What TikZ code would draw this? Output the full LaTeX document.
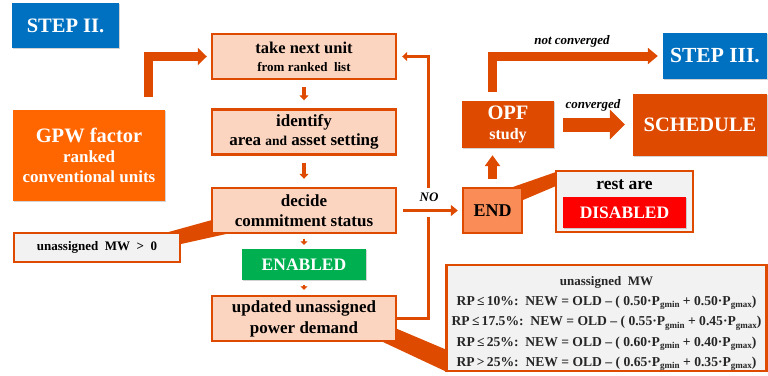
\documentclass[tikz,border=0pt]{standalone}
\usepackage{fontspec}
\setmainfont{Liberation Serif}
\usetikzlibrary{arrows.meta,shadows}

\definecolor{rust}{RGB}{222,74,0}
\definecolor{peach}{RGB}{252,213,192}
\definecolor{stepblue}{RGB}{0,112,192}
\definecolor{gpworange}{RGB}{255,102,0}
\definecolor{endorange}{RGB}{250,140,88}
\definecolor{okgreen}{RGB}{0,176,80}
\definecolor{panelgray}{RGB}{242,242,242}

% size with a given line pitch
\newcommand{\fs}[2]{\fontsize{#1}{#2}\selectfont}
\newcommand{\Pg}[1]{P\raisebox{-2.4pt}{\fs{9}{9}g#1}}

\tikzset{
  box/.style={rectangle, inner sep=0pt, align=center},
  flowbox/.style={box, fill=peach, draw=rust, line width=2.4pt,
    minimum width=184pt, minimum height=45pt},
  solidbox/.style={box, text=white, minimum width=#1,
    drop shadow={shadow xshift=1.2pt, shadow yshift=-1.2pt, opacity=0.35}},
  graybox/.style={box, fill=panelgray, draw=rust, line width=2.4pt},
  thin arrow/.style={draw=rust, line width=3.6pt,
    -{Triangle[length=5pt, width=9pt]}},
  flow line/.style={draw=rust, line width=3.4pt},
  fat line/.style={draw=rust, line width=9pt},
  lbl/.style={font=\bfseries\itshape\fs{13}{15}, inner sep=1pt},
  pointer/.style={fill=rust}
}

\begin{document}
\begin{tikzpicture}[x=1pt, y=-1pt]
\useasboundingbox (0,0) rectangle (768,375);

% callout pointers (behind the boxes)
\fill[pointer] (165,233) -- (212,220) -- (226,234) -- (181,244) -- cycle;
\fill[pointer] (510,188) -- (556,172) -- (556,186) -- (523,200) -- cycle;
\fill[pointer] (383,342) -- (395,328) -- (447,350) -- (447,372) -- cycle;

% left column
\node[solidbox=107pt, fill=stepblue, minimum height=45pt, font=\bfseries\fs{20.5}{24}]
  (step2) at (65.5,25.5) {STEP II.};
\node[solidbox=152pt, fill=gpworange, minimum height=91pt, font=\bfseries\fs{17}{20}]
  (gpw) at (89,155.5) {{\fs{20.5}{20}GPW factor}\\ranked\\conventional units};
\node[graybox, minimum width=166pt, minimum height=29pt, font=\bfseries\fs{13}{15}]
  (unas) at (97,247.5) {unassigned\ \ MW\ \ \textgreater\ \ 0};

% main flow
\node[flowbox, font=\bfseries\fs{16.5}{18}] (take) at (304,56.5)
  {take next unit\\{\fs{13}{18}from ranked\ \ list}};
\node[flowbox, font=\bfseries\fs{17}{19}] (ident) at (304,132)
  {identify\\area {\fs{13.5}{19}and} asset setting};
\node[flowbox, font=\bfseries\fs{17}{20}] (decide) at (304,210.5)
  {decide\\commitment status};
\node[solidbox=124pt, fill=okgreen, minimum height=31pt, font=\bfseries\fs{17.5}{20}]
  (enabled) at (304,264.5) {ENABLED};
\node[flowbox, font=\bfseries\fs{17}{21}] (upd) at (304,318.5)
  {updated unassigned\\power demand};

% right column
\node[box, fill=endorange, draw=rust, line width=2.4pt, minimum width=59pt,
  minimum height=45pt, font=\bfseries\fs{18}{20}] (endb) at (492.5,210.5) {END};
\node[solidbox=92pt, fill=rust, minimum height=47pt, font=\bfseries\fs{16}{20}]
  (opf) at (508,124.5) {{\fs{20.5}{20}OPF}\\study};
\node[solidbox=104pt, fill=stepblue, minimum height=46pt, font=\bfseries\fs{21.5}{24}]
  (step3) at (715,56) {STEP III.};
\node[solidbox=134pt, fill=rust, minimum height=62pt, font=\bfseries\fs{20.5}{24}]
  (sched) at (700,125) {SCHEDULE};
\node[graybox, minimum width=137pt, minimum height=61pt] (rest) at (624.5,201.5) {};
\node[box, font=\bfseries\fs{17.5}{20}] at (624.5,185) {rest are};
\node[solidbox=123pt, fill=red, minimum height=31pt, font=\bfseries\fs{17.5}{20}]
  (disabled) at (624.5,212.5) {DISABLED};
\node[graybox, minimum width=320pt, minimum height=106pt, text=black!85,
  font=\bfseries\fs{13.6}{20.3}] (formula) at (606.5,318)
  {{\fs{13}{20.3}\rule{0pt}{20pt}unassigned\ \ MW}\\
   RP\,≤\,10\%:\ \ NEW = OLD – ( 0.50·\Pg{min} + 0.50·\Pg{max})\\
   RP\,≤\,17.5\%:\ \ NEW = OLD – ( 0.55·\Pg{min} + 0.45·\Pg{max})\\
   RP\,≤\,25\%:\ \ NEW = OLD – ( 0.60·\Pg{min} + 0.40·\Pg{max})\\
   RP\,\textgreater\,25\%:\ \ NEW = OLD – ( 0.65·\Pg{min} + 0.35·\Pg{max})};

% connectors
\coordinate (g1) at (148.5,97);
\coordinate (o1) at (492.5,92);
\coordinate (lx) at (428.5,0);

\draw[fat line, -{Triangle[length=9pt, width=17pt]}, shorten >=4pt]
  (g1) |- (take.west);
\draw[thin arrow, shorten <=7pt, shorten >=8pt] (take.south) -- (ident.north);
\draw[thin arrow, shorten <=7pt, shorten >=8pt] (ident.south) -- (decide.north);
\draw[draw=rust, line width=2.6pt, -{Triangle[length=3.5pt, width=7pt]},
  shorten <=4.5pt, shorten >=4pt] (decide.south) -- (enabled.north);
\draw[draw=rust, line width=2.6pt, -{Triangle[length=3.5pt, width=7pt]},
  shorten <=4.5pt, shorten >=5pt] (enabled.south) -- (upd.north);

% return loop
\draw[flow line, -{Triangle[length=5pt, width=9pt]}, shorten >=5pt]
  (upd.east) -| (lx |- take.east) -- (take.east);
% exit to END, crossing the loop
\draw[flow line, preaction={draw=white, line width=13pt},
  -{Triangle[length=7pt, width=11pt]}, shorten <=6pt, shorten >=4pt]
  (decide.east) -- (decide.east -| endb.west);
\node[lbl, fill=white, minimum height=18pt, minimum width=26pt] at (429,197) {NO};

\draw[fat line, -{Triangle[length=11pt, width=15pt]}, shorten <=8pt, shorten >=7pt]
  (endb.north) -- (endb.north |- opf.south);
\draw[fat line, -{Triangle[length=10pt, width=16pt]}, shorten >=5pt]
  (o1) |- (step3.west);
\node[lbl] at (572,41) {not converged};
\draw[draw=rust, line width=14pt, -{Triangle[length=15pt, width=29pt]},
  shorten <=9pt, shorten >=8pt] (opf.east) -- (opf.east -| sched.west);
\node[lbl] at (593,105) {converged};
\end{tikzpicture}
\end{document}
